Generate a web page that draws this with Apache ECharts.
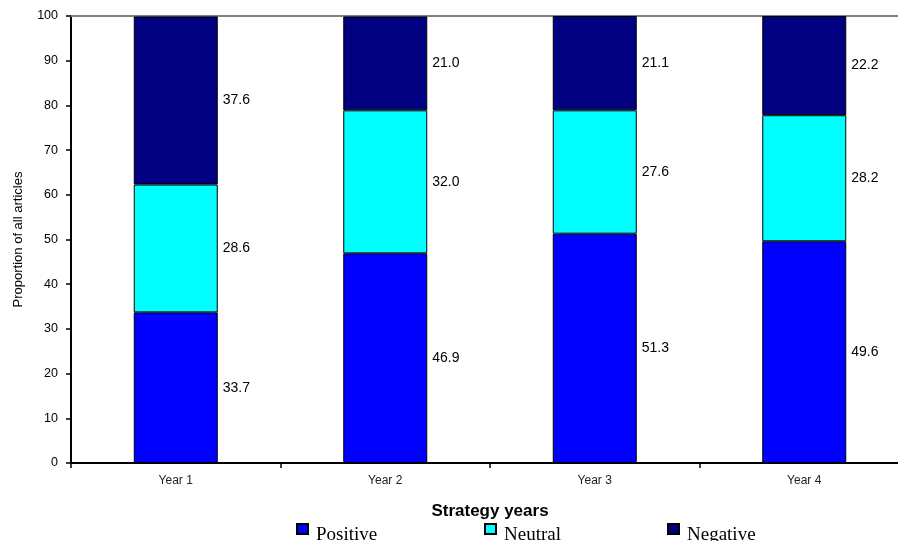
<!DOCTYPE html>
<html>
<head>
<meta charset="utf-8">
<script src="https://cdn.jsdelivr.net/npm/echarts@6/dist/echarts.min.js"></script>
<style>
  html, body { margin: 0; padding: 0; background: #fff; }
  #chart { width: 898px; height: 541px; }
</style>
</head>
<body>
<div id="chart"></div>
<script>
// Share of articles by tone, per strategy year (percent)
const years = ['Year 1', 'Year 2', 'Year 3', 'Year 4'];
const positive = [33.7, 46.9, 51.3, 49.6];
const neutral = [28.6, 32.0, 27.6, 28.2];
const negative = [37.6, 21.0, 21.1, 22.2];
const yTicks = [0, 10, 20, 30, 40, 50, 60, 70, 80, 90, 100];

const sans = '"Liberation Sans", Arial, sans-serif';
const serif = '"Liberation Serif", "Times New Roman", serif';

function toneSeries(name, values, color) {
  return {
    name: name,
    type: 'bar',
    stack: 'tone',
    data: values,
    barWidth: 84,
    itemStyle: { color: color, borderColor: '#000', borderWidth: 1 },
    label: {
      show: true,
      position: 'right',
      distance: 5,
      color: '#000',
      fontFamily: sans,
      fontSize: 14,
      formatter: p => p.value.toFixed(1)
    }
  };
}

// Legend entry: small square key sitting a little above its serif caption
function legendAt(name, left) {
  return {
    data: [name],
    left: left,
    top: 513,
    padding: 0,
    icon: 'rect',
    itemWidth: 11,
    itemHeight: 10,
    itemGap: 0,
    selectedMode: false,
    formatter: n => '\n' + n,
    textStyle: {
      fontFamily: serif,
      fontSize: 19,
      lineHeight: 13,
      color: '#000',
      padding: [0, 0, 0, 3]
    }
  };
}

const chart = echarts.init(document.getElementById('chart'));
chart.setOption({
  animation: false,
  backgroundColor: '#fff',
  grid: { left: 71, top: 16, width: 838, height: 447, outerBoundsMode: 'none', containLabel: false },
  legend: [
    legendAt('Positive', 296),
    legendAt('Neutral', 484),
    legendAt('Negative', 667)
  ],
  xAxis: [
    {
      type: 'category',
      data: years,
      name: 'Strategy years',
      nameLocation: 'middle',
      nameGap: 40,
      nameTextStyle: { fontFamily: sans, fontSize: 17, fontWeight: 'bold', color: '#000' },
      axisLine: { lineStyle: { color: '#000', width: 2 } },
      axisTick: { show: true, length: 5, alignWithLabel: false, lineStyle: { color: '#000', width: 1.5 } },
      axisLabel: { fontFamily: sans, fontSize: 12, color: '#222', margin: 12 }
    },
    {
      type: 'category',
      data: years,
      position: 'top',
      axisLine: { lineStyle: { color: '#808080', width: 2 } },
      axisTick: { show: false },
      axisLabel: { show: false }
    }
  ],
  yAxis: {
    type: 'value',
    min: yTicks[0],
    max: yTicks[yTicks.length - 1],
    interval: yTicks[1] - yTicks[0],
    name: 'Proportion of all articles',
    nameLocation: 'middle',
    nameGap: 46,
    nameTextStyle: { fontFamily: sans, fontSize: 13, color: '#000' },
    axisLine: { show: true, lineStyle: { color: '#000', width: 2 } },
    axisTick: { show: true, length: 5, lineStyle: { color: '#000', width: 1.5 } },
    axisLabel: { fontFamily: sans, fontSize: 12.5, color: '#000', margin: 13 },
    splitLine: { show: false }
  },
  series: [
    toneSeries('Positive', positive, '#0000ff'),
    toneSeries('Neutral', neutral, '#00ffff'),
    toneSeries('Negative', negative, '#000080')
  ]
});
</script>
</body>
</html>
